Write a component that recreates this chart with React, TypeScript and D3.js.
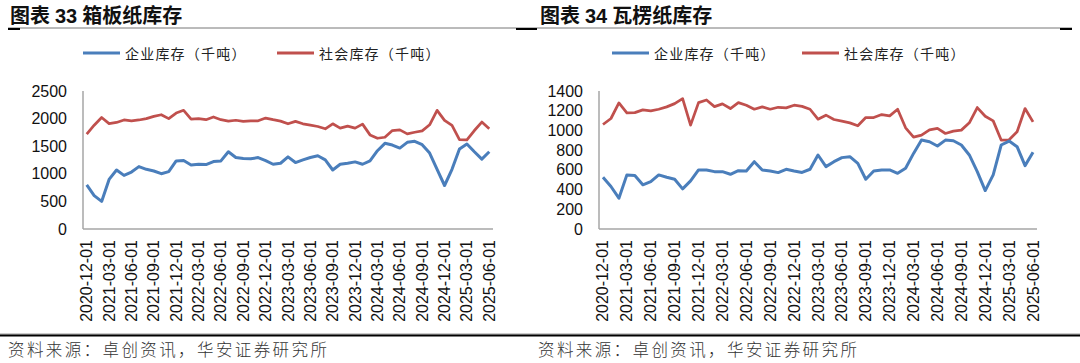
import React from "react";
import * as d3 from "d3";

// monthly, 2020-12 .. 2025-06
const months = d3
  .timeMonth.range(new Date(2020, 11, 1), new Date(2025, 6, 1))
  .map((d) => d3.timeFormat("%Y-%m-%d")(d));

const tickLabels = [
  "2020-12-01", "2021-03-01", "2021-06-01", "2021-09-01", "2021-12-01",
  "2022-03-01", "2022-06-01", "2022-09-01", "2022-12-01", "2023-03-01",
  "2023-06-01", "2023-09-01", "2023-12-01", "2024-03-01", "2024-06-01",
  "2024-09-01", "2024-12-01", "2025-03-01", "2025-06-01",
];

// 箱板纸
const boxEnterprise = [
  800, 605, 500, 898, 1069, 971, 1032, 1130, 1081, 1051, 1002, 1039, 1234, 1240,
  1160, 1173, 1167, 1222, 1234, 1399, 1295, 1277, 1271, 1295, 1240, 1173, 1191,
  1307, 1204, 1252, 1295, 1326, 1252, 1069, 1173, 1191, 1216, 1173, 1234, 1418,
  1552, 1521, 1466, 1570, 1589, 1528, 1375, 1081, 788, 1081, 1448, 1540, 1399,
  1265, 1399,
];
const boxSocial = [
  1720, 1880, 2020, 1910, 1930, 1975, 1960, 1975, 2000, 2040, 2070, 2000, 2100,
  2150, 1990, 2000, 1980, 2030, 1980, 1955, 1970, 1950, 1960, 1960, 2010, 1980,
  1955, 1906, 1950, 1906, 1880, 1857, 1815, 1906, 1827, 1863, 1827, 1900, 1705,
  1644, 1662, 1784, 1796, 1723, 1753, 1778, 1888, 2150, 1967, 1876, 1619, 1613,
  1784, 1937, 1815,
];

// 瓦楞纸
const corrEnterprise = [
  525, 431, 313, 549, 542, 448, 481, 549, 525, 505, 407, 488, 599, 599, 582, 582,
  555, 592, 589, 683, 599, 589, 572, 606, 589, 574, 606, 751, 633, 683, 724, 734,
  666, 505, 589, 599, 599, 565, 616, 767, 902, 885, 842, 902, 895, 852, 751, 582,
  390, 549, 852, 892, 835, 643, 778,
];
const corrSocial = [
  1060, 1121, 1279, 1178, 1181, 1208, 1198, 1215, 1239, 1272, 1323, 1054, 1282,
  1309, 1242, 1269, 1222, 1282, 1256, 1215, 1239, 1215, 1235, 1229, 1256, 1244,
  1215, 1114, 1155, 1111, 1094, 1077, 1047, 1131, 1131, 1161, 1148, 1215, 1027,
  932, 953, 1006, 1020, 969, 993, 1003, 1077, 1232, 1144, 1097, 902, 905, 986,
  1222, 1087,
];

const seriesNames = ["企业库存（千吨）", "社会库存（千吨）"];
const colors = ["#4A7EBB", "#C0504D"];

const cjk = "'Noto Sans CJK SC', sans-serif";
const num = "'Liberation Sans', Arial, sans-serif";

interface PanelProps {
  x0: number;
  title: [string, string, string];
  axisLeft: number;
  axisRight: number;
  yMax: number;
  yStep: number;
  enterprise: number[];
  social: number[];
  legendX: [number, number];
}

function Panel({ x0, title, axisLeft, axisRight, yMax, yStep, enterprise, social, legendX }: PanelProps) {
  const top = 91;
  const bottom = 229;
  const x = d3.scaleBand().domain(months).range([axisLeft, axisRight]);
  const y = d3.scaleLinear().domain([0, yMax]).range([bottom, top]);
  const ticks = d3.range(0, yMax + 1, yStep);
  const line = d3
    .line<number>()
    .x((_, i) => (x(months[i]) || 0) + x.bandwidth() / 2)
    .y((d) => y(d));

  return (
    <g>
      {/* title */}
      <text x={x0 + 2} y={23} fontFamily={cjk} fontWeight={700} fontSize={20} fill="#111">
        {title[0]}
        <tspan fontFamily={num} fontWeight={700} dx={5}>{title[1]}</tspan>
        <tspan dx={5}>{title[2]}</tspan>
      </text>

      {/* legend */}
      {[0, 1].map((k) => (
        <g key={k}>
          <line x1={legendX[k]} x2={legendX[k] + 37} y1={53} y2={53} stroke={colors[k]} strokeWidth={3} />
          <text x={legendX[k] + 42} y={53} dominantBaseline="central" fontFamily={cjk} fontSize={14} letterSpacing={1.2} fill="#222">
            {seriesNames[k]}
          </text>
        </g>
      ))}

      {/* y axis */}
      {ticks.map((t) => (
        <text key={t} x={axisLeft - 16} y={y(t)} textAnchor="end" dominantBaseline="central" fontFamily={num} fontSize={16} fill="#111">
          {t}
        </text>
      ))}
      <line x1={axisLeft} x2={axisLeft} y1={top} y2={bottom} stroke="#A6A6A6" strokeWidth={1.5} />
      <line x1={axisLeft} x2={axisRight} y1={bottom} y2={bottom} stroke="#A6A6A6" strokeWidth={1.5} />

      {/* x labels */}
      {tickLabels.map((m) => {
        const cx = (x(m) || 0) + x.bandwidth() / 2;
        return (
          <text key={m} transform={`translate(${cx},240) rotate(-90)`} textAnchor="end" dominantBaseline="central" fontFamily={num} fontSize={16} fill="#111">
            {m}
          </text>
        );
      })}

      {/* series */}
      <path d={line(social) || ""} fill="none" stroke={colors[1]} strokeWidth={2.75} strokeLinejoin="round" />
      <path d={line(enterprise) || ""} fill="none" stroke={colors[0]} strokeWidth={3} strokeLinejoin="round" />

      {/* source */}
      <text x={x0} y={349} dominantBaseline="central" fontFamily={cjk} fontSize={16.5} letterSpacing={2.4} fill="#333" fontWeight={300}>
        资料来源：卓创资讯，华安证券研究所
      </text>
    </g>
  );
}

export default function App() {
  return (
    <svg width={1080} height={363} style={{ position: "absolute", left: 0, top: 0, background: "#fff" }}>
      <rect width={1080} height={363} fill="#fff" />
      {/* header rules */}
      <line x1={8} x2={1072} y1={28} y2={28} stroke="#777" strokeWidth={1} />
      <line x1={8} x2={20} y1={29} y2={29} stroke="#000" strokeWidth={2} />
      <line x1={516} x2={537} y1={29} y2={29} stroke="#000" strokeWidth={2} />
      <line x1={1060} x2={1072} y1={29} y2={29} stroke="#000" strokeWidth={2} />
      {/* footer rule */}
      <line x1={0} x2={1080} y1={334} y2={334} stroke="#999" strokeWidth={1} />
      <line x1={0} x2={1080} y1={335.5} y2={335.5} stroke="#000" strokeWidth={2} />

      <Panel
        x0={8}
        title={["图表", "33", "箱板纸库存"]}
        axisLeft={83}
        axisRight={493}
        yMax={2500}
        yStep={500}
        enterprise={boxEnterprise}
        social={boxSocial}
        legendX={[83, 277]}
      />
      <Panel
        x0={538}
        title={["图表", "34", "瓦楞纸库存"]}
        axisLeft={599}
        axisRight={1037}
        yMax={1400}
        yStep={200}
        enterprise={corrEnterprise}
        social={corrSocial}
        legendX={[612, 802]}
      />
    </svg>
  );
}
